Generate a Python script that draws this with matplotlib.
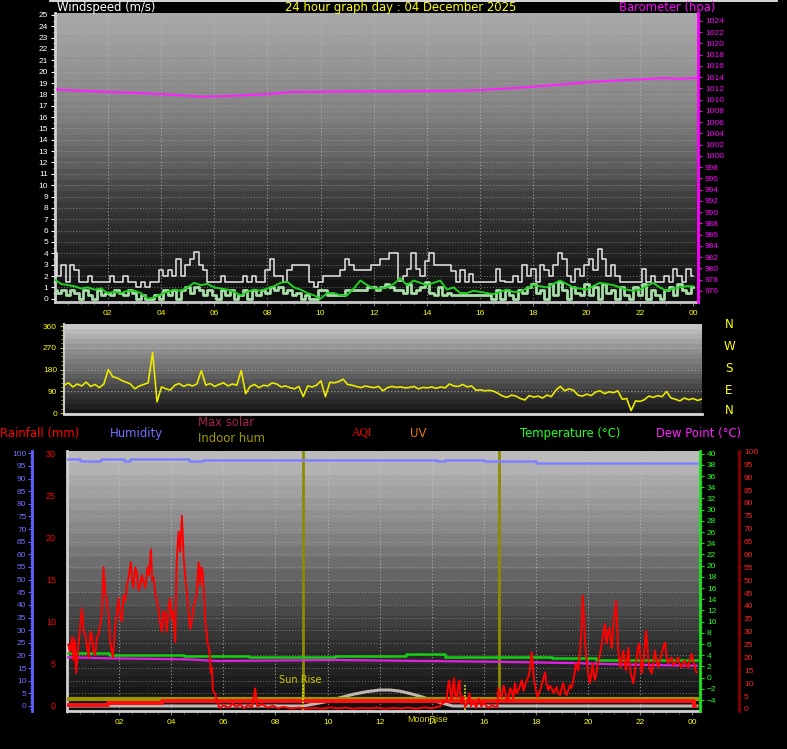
import numpy as np
import matplotlib
matplotlib.use('Agg')
import matplotlib.pyplot as plt
from matplotlib.ticker import MultipleLocator, FixedLocator
from matplotlib.lines import Line2D

# ---------------- DATA ----------------
# wind (m/s), 10-minute steps from 00:00
gust = [4.0, 2.0, 3.0, 1.5, 3.0, 2.5,
        1.5, 1.5, 2.0, 1.5, 1.5, 1.5,
        1.5, 2.0, 1.5, 1.5, 2.0, 1.5,
        1.5, 1.0, 1.5, 1.0, 1.5, 1.5,
        2.5, 2.0, 2.5, 2.0, 3.5, 2.0,
        3.0, 3.5, 4.1, 3.0, 2.5, 1.5,
        1.5, 1.5, 2.0, 1.5, 1.5, 1.5,
        1.5, 2.0, 1.5, 2.0, 1.5, 1.5,
        2.5, 3.5, 2.0, 2.0, 1.5, 2.5,
        3.0, 3.0, 3.0, 3.0, 1.5, 1.0,
        1.5, 2.0, 2.0, 2.0, 2.0, 2.5,
        3.5, 3.0, 2.5, 2.5, 2.5, 2.5,
        3.0, 3.0, 3.5, 3.5, 4.0, 4.0,
        1.6, 2.0, 2.6, 4.0, 2.6, 2.0,
        3.3, 4.0, 3.0, 3.0, 3.0, 3.0,
        2.4, 1.5, 2.5, 1.5, 2.2, 1.5,
        1.5, 1.5, 1.5, 1.5, 2.6, 1.6,
        1.5, 1.5, 2.0, 1.5, 3.0, 2.0,
        2.6, 1.5, 3.0, 2.5, 2.0, 3.0,
        4.0, 3.5, 2.0, 1.5, 2.6, 2.0,
        3.0, 3.5, 2.5, 4.4, 3.5, 2.0,
        3.0, 2.0, 1.5, 1.5, 1.5, 1.5,
        1.5, 2.6, 1.5, 2.0, 1.5, 1.5,
        2.0, 1.5, 2.6, 2.0, 1.5, 2.6,
        2.0]
speed = [0.8, 0.5, 0.8, 0.3, 0.8, 0.5,
         0.0, 0.8, 0.3, 0.0, 0.8, 0.3,
         0.5, 0.3, 0.8, 0.5, 0.3, 0.8,
         0.5, 0.0, 0.3, 0.0, 0.0, 0.3,
         0.0, 0.8, 0.3, 0.8, 0.0, 0.8,
         1.0, 0.5, 1.0, 0.8, 0.3, 0.8,
         0.3, 0.0, 0.8, 0.3, 0.8, 0.0,
         0.3, 0.8, 0.0, 0.8, 0.3, 0.8,
         0.5, 1.0, 0.8, 1.0, 0.5, 0.8,
         0.3, 0.5, 0.0, 0.3, 0.0, 0.0,
         0.8, 0.8, 0.3, 0.3, 0.3, 0.3,
         0.8, 0.8, 0.8, 0.8, 0.8, 1.0,
         1.0, 0.8, 1.0, 1.3, 1.0, 0.8,
         0.8, 0.5, 1.3, 0.5, 0.8, 1.0,
         1.5, 0.5, 0.3, 1.0, 0.3, 0.5,
         0.3, 0.3, 0.3, 0.3, 0.3, 0.3,
         0.3, 0.3, 0.3, 0.0, 0.8, 0.0,
         0.8, 0.3, 0.0, 0.8, 0.5, 1.0,
         1.3, 0.5, 0.8, 0.0, 1.3, 0.3,
         1.5, 0.8, 0.0, 1.0, 0.5, 0.3,
         1.3, 0.3, 1.0, 0.0, 1.3, 0.5,
         0.8, 0.0, 1.0, 0.3, 0.0, 1.0,
         0.3, 1.3, 0.0, 0.8, 0.3, 0.0,
         0.8, 1.0, 0.3, 1.3, 0.8, 0.5,
         1.0]
# average wind, 15-minute steps
avg = [1.7, 1.3, 1.2, 1.1, 0.9, 1.0, 0.8, 0.9, 0.5, 0.6, 0.5, 0.7,
       0.7, 0.5, 0.0, 0.1, 0.4, 0.6, 0.8, 0.7, 1.0, 1.4, 1.2, 1.3,
       1.0, 0.9, 0.8, 0.6, 0.3, 0.6, 0.8, 0.7, 0.9, 1.1, 1.4, 1.5,
       1.0, 0.8, 0.5, 0.3, 0.0, 0.5, 0.5, 0.3, 0.3, 0.9, 1.6, 1.2,
       0.9, 0.9, 1.0, 1.3, 1.8, 1.2, 1.6, 1.4, 1.2, 1.4, 1.6, 0.8,
       1.0, 0.5, 0.5, 0.7, 0.6, 0.5, 0.4, 0.6, 0.8, 0.6, 0.6, 0.9,
       1.2, 1.1, 1.0, 1.3, 1.6, 1.3, 1.0, 0.9, 0.8, 1.1, 1.4, 1.3,
       1.2, 1.0, 0.8, 0.7, 0.8, 1.1, 1.4, 1.0, 0.7, 0.9, 1.0, 1.1,
       1.1]
baro_hours = [0.1, 1, 2, 3, 4, 5, 5.5, 6, 7, 8, 9, 10, 11, 12, 13, 14, 15, 16,
              17, 18, 19, 20, 21, 22, 22.9, 23.5, 24.15]
baro = [1011.8, 1011.6, 1011.4, 1011.2, 1011.0, 1010.7, 1010.55, 1010.6, 1010.75,
        1011.0, 1011.4, 1011.4, 1011.5, 1011.5, 1011.5, 1011.55, 1011.6, 1011.7,
        1012.0, 1012.3, 1012.7, 1013.1, 1013.4, 1013.6, 1013.85, 1013.7, 1013.9]

# wind direction (deg), 10-minute steps
wdir = [115, 125, 108, 120, 112, 128,
        110, 118, 105, 120, 180, 150,
        145, 135, 128, 120, 100, 112,
        118, 125, 251, 46, 108, 100,
        95, 115, 122, 110, 118, 112,
        120, 176, 115, 122, 110, 118,
        125, 112, 120, 115, 176, 80,
        110, 118, 105, 115, 112, 125,
        120, 108, 112, 105, 100, 110,
        68, 112, 108, 115, 133, 68,
        127, 125, 130, 140, 118, 115,
        110, 105, 112, 108, 105, 110,
        92, 105, 110, 106, 108, 104,
        106, 110, 100, 106, 104, 108,
        102, 108, 104, 120, 112, 110,
        118, 108, 112, 94, 96, 92,
        94, 90, 81, 70, 65, 74,
        70, 60, 54, 72, 66, 70,
        62, 74, 68, 94, 110, 92,
        100, 94, 74, 70, 78, 72,
        87, 92, 80, 88, 84, 92,
        57, 60, 10, 50, 48, 55,
        70, 65, 72, 68, 89, 62,
        57, 50, 62, 55, 60, 52,
        58]
dir_labels = ['N', 'W', 'S', 'E', 'N']

# bottom panel
hum_hours = [0.05, 0.5, 1.3, 2.2, 2.4, 4.7, 5.2, 8.3, 14.2, 14.5, 16.0, 18.0, 24.17]
humidity = [97.8, 96.8, 97.8, 96.8, 97.8, 96.8, 97.3, 97.5, 96.8, 97.2, 96.8, 96.0, 96.0]
temp_hours = [0.05, 1.6, 4.5, 7.0, 10.3, 13.0, 14.5, 18.6, 20.3, 24.17]
temperature = [4.35, 4.05, 3.8, 3.65, 3.87, 4.18, 3.75, 3.46, 3.16, 3.16]
dew_hours = [0.05, 1.6, 4.6, 5.8, 10.4, 13.2, 16.3, 19.5, 21.0, 22.5, 24.17]
dewpoint = [3.64, 3.46, 3.28, 2.98, 3.16, 3.0, 2.86, 2.6, 2.4, 2.25, 2.14]
rain_hours = [0.05, 1.58, 3.64, 24.06, 24.1]
rainfall = [0.1, 0.3, 0.55, 0.0, 0.0]
indoor_hours = [0.05, 24.17]
indoor = [0.8, 0.8]
solar_hours = [0.05, 9.07, 9.5, 10.0, 10.5, 11.0, 11.5, 12.0, 12.4, 12.8, 13.2, 13.6,
               14.0, 14.4, 14.8, 24.17]
solar = [0.0, 0.0, 0.25, 0.55, 1.0, 1.4, 1.7, 1.9, 1.9, 1.75, 1.45, 1.1, 0.7, 0.35, 0.0, 0.0]
sunrise, sunset, moonrise = 9.05, 16.57, 15.27

aqi_hours = [0.05, 0.12, 0.2, 0.25, 0.3, 0.35, 0.44, 0.57, 0.64, 0.7, 0.77, 0.83, 0.9, 0.95,
             1.02, 1.08, 1.15, 1.21, 1.28, 1.34, 1.4, 1.47, 1.53, 1.6, 1.66, 1.76, 1.85, 1.92,
             1.98, 2.04, 2.1, 2.17, 2.23, 2.3, 2.36, 2.45, 2.5, 2.55, 2.62, 2.68, 2.75, 2.81,
             2.87, 2.93, 3.0, 3.09, 3.15, 3.22, 3.27, 3.32, 3.4, 3.45, 3.52, 3.58, 3.64, 3.7,
             3.77, 3.83, 3.9, 3.96, 4.02, 4.06, 4.12, 4.15, 4.21, 4.28, 4.34, 4.41, 4.47, 4.53,
             4.6, 4.66, 4.73, 4.8, 4.85, 4.91, 4.96, 5.05, 5.11, 5.16, 5.21, 5.26, 5.3, 5.35,
             5.39, 5.47, 5.52, 5.56, 5.6, 5.68, 5.73, 5.77, 5.82, 5.88,
             6.0, 6.2, 6.35, 6.5, 6.65, 6.8, 6.95, 7.1, 7.22, 7.3, 7.5, 7.7, 7.9, 8.1, 8.3,
             8.6, 8.9, 9.2, 9.5, 9.8, 10.1, 10.4, 10.7, 11.0, 11.3, 11.6, 11.9, 12.2, 12.5,
             12.8, 13.1, 13.4, 13.7, 14.0, 14.3, 14.45,
             14.57, 14.62, 14.67, 14.72, 14.76, 14.8, 14.85, 14.9, 14.96, 15.01, 15.06, 15.1,
             15.15, 15.2, 15.27, 15.35, 15.45, 15.5, 15.6, 15.7, 15.8, 15.9, 16.0, 16.1, 16.2,
             16.3, 16.45, 16.52,
             16.55, 16.62, 16.68, 16.75, 16.81, 16.88, 16.94, 17.0, 17.06, 17.12, 17.19, 17.25,
             17.32, 17.38, 17.45, 17.52, 17.58, 17.64, 17.7, 17.76, 17.83, 17.88, 17.92, 17.98,
             18.05, 18.11, 18.18, 18.26, 18.34, 18.4, 18.47, 18.53, 18.6, 18.66, 18.72, 18.79,
             18.85, 18.92, 18.98, 19.04, 19.1, 19.17, 19.23, 19.3, 19.36, 19.43, 19.48, 19.53,
             19.58, 19.62, 19.66, 19.69, 19.74, 19.79, 19.84, 19.88, 19.93, 19.97, 20.02, 20.07,
             20.12, 20.17, 20.22, 20.26, 20.33, 20.39, 20.45, 20.52, 20.58, 20.64, 20.68, 20.71,
             20.76, 20.81, 20.86, 20.9, 20.95, 20.99, 21.03, 21.07, 21.11, 21.15, 21.2, 21.24,
             21.3, 21.35, 21.4, 21.45, 21.5, 21.54, 21.58, 21.63, 21.68, 21.73, 21.8, 21.86,
             21.91, 21.96, 22.0, 22.05, 22.1, 22.14, 22.18, 22.22, 22.27, 22.31, 22.38, 22.44,
             22.5, 22.56, 22.62, 22.69, 22.75, 22.82, 22.88, 22.95, 23.01, 23.07, 23.13, 23.2,
             23.26, 23.33, 23.39, 23.45, 23.52, 23.58, 23.64, 23.71, 23.77, 23.84, 23.9, 23.97,
             24.02, 24.06, 24.12, 24.16]
aqi = [25, 22, 28, 19, 27, 14, 25, 39, 30, 29, 24, 20, 30, 29,
       22, 21, 28, 29, 33, 38, 55, 45, 42, 36, 26, 20, 32, 38,
       43, 36, 34, 44, 42, 48, 51, 57, 50, 47, 55, 53, 46, 48,
       52, 50, 47, 55, 52, 62, 50, 51, 44, 42, 38, 33, 30, 38,
       37, 30, 40, 43, 35, 38, 30, 26, 57, 69, 61, 75, 60, 52,
       45, 38, 31, 35, 39, 42, 43, 57, 48, 55, 53, 44, 35, 30,
       26, 22, 14, 16, 7, 6, 4, 3.5, 1, 0.4,
       1.5, 0.5, 2, 0.8, 1.8, 0.3, 1.5, 0.6, 8, 1, 1.8, 0.5, 1.2, 0.3, 0.8,
       0.2, 0.5, 0.1, 0.4, 0.1, 0.6, 0.2, 0.5, 0.1, 0.4, 0.2, 0.5, 0.1, 0.4,
       0.2, 0.5, 0.1, 0.6, 0.3, 1.0, 2.5,
       3.5, 9, 11, 6, 3.5, 8, 12, 5, 4.5, 9, 11, 4,
       2.3, 5, 0.8, 2, 6, 1, 3, 0.5, 4, 1, 2.5, 1, 0.5,
       1.5, 0.8, 1,
       8, 5, 4.6, 9, 7.3, 3, 4.2, 8, 7.3, 4, 10, 6,
       7.3, 9, 11.2, 7, 9.2, 11, 12.3, 15, 22, 16, 11.2, 8,
       4.6, 6, 8.1, 11, 14.2, 10, 7.3, 9, 8, 6.2, 7, 8.5,
       6, 5.4, 8, 10, 7, 5.4, 7, 9.2, 8, 11.2, 14, 17.7,
       16, 15, 20, 22.7, 30, 44, 35, 26, 20, 16.2, 12, 10,
       14, 17.7, 13, 11.2, 15, 18.8, 21, 25.4, 29, 33, 28, 25.4,
       30, 31.5, 27, 23.8, 30, 35.4, 38, 42, 33, 22.7, 19, 16.2,
       20, 22.7, 18, 15, 20, 23.8, 19, 13.8, 12, 10, 15, 20,
       24, 25.4, 20, 13.8, 17, 20, 26, 30.4, 24, 18.8, 15, 13.8,
       18, 22.7, 19, 16.2, 19, 21.5, 24, 25.8, 20, 17.7, 19, 20,
       17, 17.7, 19, 20, 17, 16.2, 18, 18.8, 17, 16.2, 19, 21.5,
       19, 17.7, 15, 14.2]

hour_ticks = [2, 4, 6, 8, 10, 12, 14, 16, 18, 20, 22, 24]
hour_labels = ['02', '04', '06', '08', '10', '12', '14', '16', '18', '20', '22', '00']

# ---------------- LAYOUT ----------------
W, H = 787, 749
fig = plt.figure(figsize=(W / 100, H / 100), dpi=100, facecolor='black')
TF = ['Liberation Sans Narrow', 'Liberation Sans', 'DejaVu Sans']
HF = 'DejaVu Sans'


def rect(x0, y0, x1, y1):
    return [x0 / W, 1 - y1 / H, (x1 - x0) / W, (y1 - y0) / H]


def ftext(px, py, s, color, size=8.4, ha='left', family=HF, **kw):
    fig.text(px / W, 1 - py / H, s, color=color, fontsize=size, ha=ha, va='center',
             family=family, **kw)


def gradient(ax, fs, vs, nb):
    f = (np.arange(nb) + 0.5) / nb
    v = np.interp(f, fs, vs) / 255.0
    col = v[::-1][:, None]
    img = np.dstack([col, col, col])
    x0, x1 = ax.get_xlim()
    y0, y1 = ax.get_ylim()
    ax.imshow(img, extent=[x0, x1, y0, y1], aspect='auto', zorder=0,
              interpolation='nearest', origin='upper')
    ax.set_xlim(x0, x1)
    ax.set_ylim(y0, y1)


def tick_font(ax):
    for lab in ax.get_xticklabels() + ax.get_yticklabels():
        lab.set_family(TF)


dotted = (0, (1, 2))

# ---- top panel: wind + barometer ----
ax1 = fig.add_axes(rect(55, 13, 698, 302))
ax1.set_facecolor('black')
ax1.set_xlim(0.02, 24.19)
ax1.set_ylim(-0.29, 25.17)
gradient(ax1, [0, 0.17, 0.35, 0.52, 0.66, 1.0], [12, 35, 60, 105, 130, 170], 26)
for v in range(1, 26):
    ax1.axhline(v, color='#b8b8b8', lw=0.7, ls=dotted, alpha=0.55, zorder=1)
for h in hour_ticks[:-1]:
    ax1.axvline(h, color='#c0c0c0', lw=0.8, ls=dotted, alpha=0.7, zorder=1)
t10 = np.arange(len(gust)) / 6.0
t15 = np.arange(len(avg)) / 4.0
ax1.plot(t10, speed, color='#a8dca8', lw=2.0, drawstyle='steps-mid', zorder=3)
ax1.plot(t10, gust, color='#e8e8e8', lw=1.1, drawstyle='steps-mid', zorder=4)
ax1.plot(t15, avg, color='#20d020', lw=1.4, zorder=5)
ax1.yaxis.set_major_locator(MultipleLocator(1))
ax1.yaxis.set_minor_locator(MultipleLocator(0.5))
ax1.xaxis.set_major_locator(FixedLocator(hour_ticks))
ax1.set_xticklabels(hour_labels)
ax1.xaxis.set_minor_locator(MultipleLocator(0.5))
ax1.tick_params(axis='y', which='major', colors='white', labelsize=6, length=3, pad=2)
ax1.tick_params(axis='y', which='minor', colors='white', length=1.5)
ax1.tick_params(axis='x', which='major', colors='#808080', labelcolor='#ffff00',
                labelsize=6, length=3, pad=3)
ax1.tick_params(axis='x', which='minor', colors='#606060', length=2)
for s in ['top', 'right']:
    ax1.spines[s].set_visible(False)
ax1.spines['left'].set_color('#d0d0d0')
ax1.spines['left'].set_linewidth(2)
ax1.spines['bottom'].set_color('#c8c8c8')
ax1.spines['bottom'].set_linewidth(2)
tick_font(ax1)

ax1b = ax1.twinx()
ax1b.set_ylim(974.04, 1025.42)
ax1b.plot(baro_hours, baro, color='#ff20ff', lw=1.5, zorder=6)
ax1b.yaxis.set_minor_locator(MultipleLocator(1))
ax1b.set_yticks(np.arange(976, 1025, 2))
ax1b.set_ylim(974.04, 1025.42)
ax1b.tick_params(axis='y', which='major', colors='#ff00ff', labelsize=6, length=3, pad=2)
ax1b.tick_params(axis='y', which='minor', colors='#ff00ff', length=1.5)
for s in ['top', 'left', 'bottom']:
    ax1b.spines[s].set_visible(False)
ax1b.spines['right'].set_color('#ff00ff')
ax1b.spines['right'].set_linewidth(2)
tick_font(ax1b)

# ---- middle panel: wind direction ----
ax2 = fig.add_axes(rect(64, 324, 702, 414))
ax2.set_xlim(0, 24)
ax2.set_ylim(-4.1, 368.3)
gradient(ax2, [0, 0.25, 0.5, 0.75, 1.0], [18, 60, 110, 150, 205], 18)
for v in [90, 180, 270]:
    ax2.axhline(v, color='#c8c8c8', lw=0.8, ls=dotted, alpha=0.7, zorder=1)
ax2.plot(np.arange(len(wdir)) / 6.0, wdir, color='#e8e800', lw=1.2, zorder=3)
ax2.set_yticks([0, 90, 180, 270, 360])
ax2.yaxis.set_minor_locator(MultipleLocator(18))
ax2.set_xticks([])
ax2.tick_params(axis='y', which='major', colors='#c8c800', labelcolor='#ffff00',
                labelsize=6, length=3, pad=2)
ax2.tick_params(axis='y', which='minor', colors='#c8c800', length=2)
for s in ['top', 'right']:
    ax2.spines[s].set_visible(False)
ax2.spines['left'].set_color('#c8c8c8')
ax2.spines['left'].set_linewidth(1.5)
ax2.spines['bottom'].set_color('#d8d8d8')
ax2.spines['bottom'].set_linewidth(2)
tick_font(ax2)
for lab, py in zip(dir_labels, [324, 346, 368, 390, 411]):
    ftext(729, py, lab, '#ffff00', size=8.6, ha='center')

# ---- bottom panel ----
ax3 = fig.add_axes(rect(67, 451, 700, 711))
ax3.set_xlim(0, 24.29)
ax3.set_ylim(-0.594, 30.27)
gradient(ax3, [0, 0.04, 0.27, 0.54, 0.81, 1.0], [15, 20, 50, 105, 155, 192], 22)
for k in range(1, 21):
    ax3.axhline(1.5 * k, color='#c0c0c0', lw=0.7, ls=dotted, alpha=0.55, zorder=1)
for h in hour_ticks[:-1]:
    ax3.axvline(h, color='#c8c8c8', lw=0.8, ls=dotted, alpha=0.7, zorder=1)
ax3.plot([sunrise, sunrise], [0.75, 30.27], color='#8c8c00', lw=2, zorder=2)
ax3.plot([sunset, sunset], [0.75, 30.27], color='#8c8c00', lw=2, zorder=2)
ax3.plot([sunrise, sunrise], [-0.47, 2.6], color='#e8e800', lw=1.2, ls=(0, (1, 1)), zorder=7)
ax3.plot([moonrise, moonrise], [-0.47, 2.6], color='#e8e800', lw=1.2, ls=(0, (1, 1)), zorder=7)
ax3.plot(solar_hours, solar, color='#c0b8b4', lw=2.2, zorder=3)
ax3.plot(indoor_hours, indoor, color='#9c9400', lw=3, zorder=4)
ax3.plot(rain_hours, rainfall, color='#ff1010', lw=2.8, drawstyle='steps-post', zorder=5)
ax3.text(8.95, 3.1, 'Sun Rise', color='#c8c800', fontsize=7, ha='center', va='center')
ax3.yaxis.set_major_locator(MultipleLocator(5))
ax3.xaxis.set_major_locator(FixedLocator(hour_ticks))
ax3.set_xticklabels(hour_labels)
ax3.xaxis.set_minor_locator(MultipleLocator(0.5))
ax3.tick_params(axis='y', which='major', colors='red', labelsize=6.5, length=0, pad=8)
ax3.tick_params(axis='x', which='major', colors='#808080', labelcolor='#ffff00',
                labelsize=6, length=3, pad=3)
ax3.tick_params(axis='x', which='minor', colors='#606060', length=2)
for s in ['top', 'right']:
    ax3.spines[s].set_visible(False)
ax3.spines['left'].set_color('#d0d0d0')
ax3.spines['left'].set_linewidth(2)
ax3.spines['bottom'].set_color('#d0d0d0')
ax3.spines['bottom'].set_linewidth(2)
tick_font(ax3)

axH = ax3.twinx()
axH.set_ylim(-0.594 * 100 / 30, 30.27 * 100 / 30)
axH.plot(hum_hours, humidity, color='#8080ff', lw=1.8, drawstyle='steps-post', zorder=3)
axH.yaxis.tick_left()
axH.spines['left'].set_position(('axes', (32 - 67) / 633))
for s in ['top', 'right', 'bottom']:
    axH.spines[s].set_visible(False)
axH.spines['left'].set_visible(True)
axH.spines['left'].set_color('#6060ff')
axH.spines['left'].set_linewidth(2)
axH.yaxis.set_major_locator(MultipleLocator(5))
axH.yaxis.set_minor_locator(MultipleLocator(1))
axH.set_ylim(-0.594 * 100 / 30, 30.27 * 100 / 30)
axH.tick_params(axis='y', which='major', colors='#6060ff', labelcolor='#6f6fff',
                labelsize=6, length=3, pad=1)
axH.tick_params(axis='y', which='minor', colors='#6060ff', length=1.5)
tick_font(axH)

axT = ax3.twinx()
axT.set_ylim(-5.95, 40.48)
axT.plot(temp_hours, temperature, color='#10d010', lw=1.8, drawstyle='steps-post', zorder=3)
axT.plot(dew_hours, dewpoint, color='#e020e0', lw=1.6, zorder=4)
axT.yaxis.set_minor_locator(MultipleLocator(1))
axT.set_yticks(np.arange(-4, 41, 2))
axT.set_ylim(-5.95, 40.48)
axT.tick_params(axis='y', which='major', colors='#00e000', labelcolor='#20ff20',
                labelsize=6, length=3, pad=2)
axT.tick_params(axis='y', which='minor', colors='#00e000', length=1.5)
for s in ['top', 'left', 'bottom']:
    axT.spines[s].set_visible(False)
axT.spines['right'].set_color('#20e020')
axT.spines['right'].set_linewidth(2)
tick_font(axT)

axA = ax3.twinx()
axA.set_ylim(-0.8, 100.2)
axA.plot(aqi_hours, aqi, color='#ff0000', lw=1.4, zorder=6)
axA.spines['right'].set_position(('axes', 1 + 39 / 633))
for s in ['top', 'left', 'bottom']:
    axA.spines[s].set_visible(False)
axA.spines['right'].set_color('#800000')
axA.spines['right'].set_linewidth(2)
axA.yaxis.set_major_locator(MultipleLocator(5))
axA.yaxis.set_minor_locator(MultipleLocator(1))
axA.set_ylim(-0.8, 100.2)
axA.tick_params(axis='y', which='major', colors='#900000', labelcolor='#ff2020',
                labelsize=6, length=3, pad=2, direction='inout')
axA.tick_params(axis='y', which='minor', colors='#800000', length=2, direction='inout')
tick_font(axA)

# ---- headers ----
fig.add_artist(Line2D([50 / W, 777 / W], [1 - 0.6 / H, 1 - 0.6 / H], color='white', lw=1.2))
ftext(57, 7, 'Windspeed (m/s)', 'white')
ftext(401, 7, '24 hour graph day : 04 December 2025', '#ffff00', ha='center')
ftext(619, 7, 'Barometer (hpa)', '#ff00ff')
ftext(0, 433, 'Rainfall (mm)', '#ff0000')
ftext(110, 433, 'Humidity', '#7070ff')
ftext(198, 423, 'Max solar', '#a8204c')
ftext(198, 438, 'Indoor hum', '#a09800')
ftext(352, 433, 'AQI', '#ff0000', size=8.4, family='Liberation Serif')
ftext(410, 433, 'UV', '#e87820')
ftext(520, 433, 'Temperature (°C)', '#20ff20')
ftext(656, 433, 'Dew Point (°C)', '#ff20ff')
ftext(428, 720, 'MoonRise', '#d8d800', size=6.5, ha='center', family=TF)

fig.savefig('out.png', dpi=100, facecolor='black')
